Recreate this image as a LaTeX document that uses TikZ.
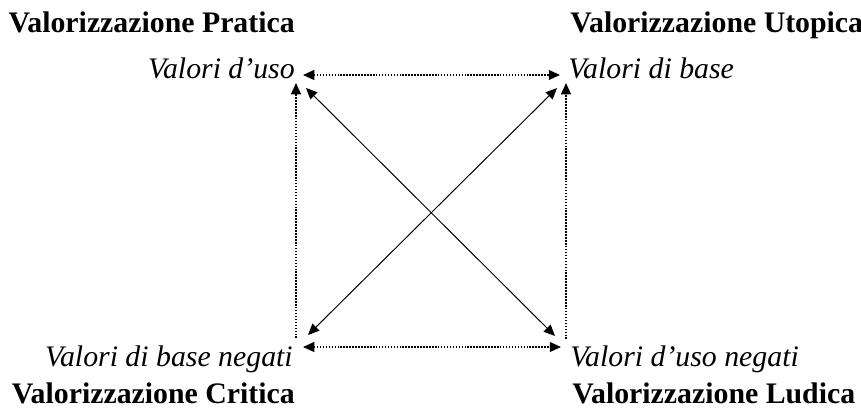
\documentclass[tikz,border=0pt]{standalone}
\usepackage{fontspec}
\setmainfont{Liberation Serif}
\usetikzlibrary{arrows.meta,positioning}
\tikzset{
  title/.style={font=\fontsize{21.2}{25}\selectfont\bfseries,inner sep=0pt},
  value/.style={font=\fontsize{21.2}{25}\selectfont\itshape,inner sep=0pt},
  arrowdot/.style={{Triangle[length=8pt,width=7pt]}-{Triangle[length=8pt,width=7pt]},
                   line width=1pt,dash pattern=on 1.1pt off 1pt},
  arrowup/.style={-{Triangle[length=8pt,width=7pt]},
                  line width=1pt,dash pattern=on 1.1pt off 1pt},
  arrowdiag/.style={{Triangle[length=8pt,width=7pt]}-{Triangle[length=8pt,width=7pt]},
                    line width=0.7pt},
}

\begin{document}
\begin{tikzpicture}[x=0.025cm,y=-0.025cm]
  \useasboundingbox (0,0) rectangle (861,414);
  % Titles
  \node[title,anchor=base east](pratica)at(295,32){Valorizzazione Pratica};
  \node[title,anchor=base west](utopica)at(570,32){Valorizzazione Utopica};
  \node[title,anchor=base east](critica)at(295,403){Valorizzazione Critica};
  \node[title,anchor=base west](ludica)at(572,403){Valorizzazione Ludica};
  % Values
  \node[value,anchor=base east](uso)at(295,78){Valori d’uso};
  \node[value,anchor=base west](base)at(568,78){Valori di base};
  \node[value,anchor=base east](basen)at(293,366){Valori di base negati};
  \node[value,anchor=base west](uson)at(570,366){Valori d’uso negati};
  % End points
  \coordinate(uso-h)at(303,75);   \coordinate(base-h)at(560,75);
  \coordinate(basen-h)at(303,347);\coordinate(uson-h)at(561,347);
  \coordinate(uso-v)at(296,83);   \coordinate(basen-v)at(296,338);
  \coordinate(base-v)at(566,83);  \coordinate(uson-v)at(566,339);
  \coordinate(uso-d)at(306,88);   \coordinate(uson-d)at(555,336);
  \coordinate(base-d)at(557,88);  \coordinate(basen-d)at(308,335);
  % Square
  \draw[arrowdot](uso-h)--(base-h);
  \draw[arrowdot](basen-h)--(uson-h);
  \draw[arrowup](basen-v)--(uso-v);
  \draw[arrowup](uson-v)--(base-v);
  % Diagonals
  \draw[arrowdiag](uso-d)--(uson-d);
  \draw[arrowdiag](basen-d)--(base-d);
\end{tikzpicture}
\end{document}
